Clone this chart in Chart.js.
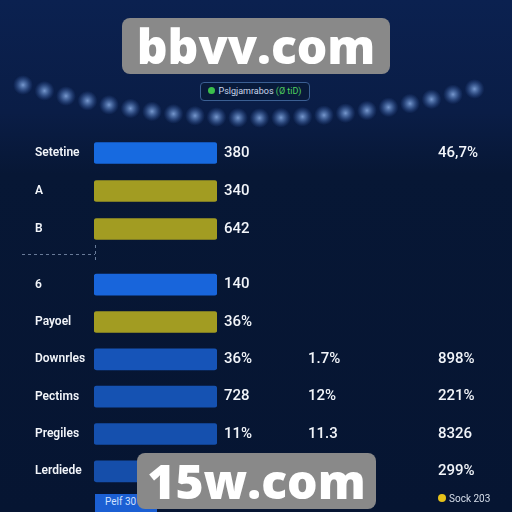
<!DOCTYPE html>
<html>
<head>
<meta charset="utf-8">
<script src="https://cdn.jsdelivr.net/npm/chart.js@4"></script>
<style>
  html, body { margin: 0; padding: 0; }
  body {
    width: 512px; height: 512px; overflow: hidden; position: relative;
    background: linear-gradient(180deg, #0b2150 0%, #0a1d46 22%, #071735 34%, #061532 100%);
    font-family: Roboto, "Noto Sans", sans-serif;
  }
  #deco { position: absolute; left: 0; top: 0; }
  .box { position: absolute; width: 512px; }
  .wm {
    position: absolute; background: #898989; border-radius: 8px; color: #fff;
    font-weight: 800; text-align: center; font-family: "Open Sans", Roboto, sans-serif;
  }
  #wm1 { left: 122px; top: 18px; width: 268px; height: 56px; font-size: 48px; line-height: 56px; }
  #wm2 { left: 137px; top: 453px; width: 239px; height: 56px; font-size: 48px; line-height: 56px; }
  #legend {
    position: absolute; left: 200px; top: 82px; width: 110px; height: 19px; box-sizing: border-box;
    border: 1px solid #3b5f93; border-radius: 4px; background: #081a3a;
    color: #c9d6ea; font-size: 9px; line-height: 17px; text-align: center; white-space: nowrap;
  }
  #legend .dot { display: inline-block; width: 7px; height: 7px; border-radius: 50%; background: #3bbf4c; margin-right: 3px; }
  #legend .g { color: #4fd05e; }
  #btn {
    position: absolute; left: 95px; top: 494px; width: 62px; height: 18px; background: #1b5fd3;
    color: #cfe0ff; font-size: 10px; line-height: 16px; padding-left: 10px; box-sizing: border-box;
  }
  #sock { position: absolute; left: 438px; top: 493px; color: #d6deea; font-size: 10px; }
  #sock .dot { display: inline-block; width: 8px; height: 8px; border-radius: 50%; background: #e6c21a; margin-right: 3px; }
</style>
</head>
<body>
<canvas id="deco" width="512" height="512"></canvas>
<div class="box" style="left:0;top:134px;height:114px;"><canvas id="chartTop"></canvas></div>
<div class="box" style="left:0;top:266px;height:224px;"><canvas id="chartBottom"></canvas></div>
<div class="wm" id="wm1">bbvv.com</div>
<div id="legend"><span class="dot"></span>Pslgjamrabos <span class="g">(Ø tiD)</span></div>
<div id="btn">Pelf 30</div>
<div id="sock"><span class="dot"></span>Sock 203</div>
<div class="wm" id="wm2">15w.com</div>
<script>
const categorias = ["Setetine", "A", "B", "6", "Payoel", "Downrles", "Pectims", "Pregiles", "Lerdiede"];
// todas las barras tienen el mismo largo en la imagen
const valoresBarra = [100, 100, 100, 100, 100, 100, 100, 100, 100];
const columna1 = ["380", "340", "642", "140", "36%", "36%", "728", "11%", ""];
const columna2 = ["", "", "", "", "", "1.7%", "12%", "11.3", ""];
const columna3 = ["46,7%", "", "", "", "", "898%", "221%", "8326", "299%"];
const coloresBarra = ["#176ae0", "#a29c22", "#a29c22", "#1865db", "#a29c22", "#1654b8", "#1552b2", "#1550ae", "#154eaa"];
const corte = 3; // filas arriba de la linea punteada

// fondo: puntos en arco y linea punteada
const deco = document.getElementById("deco").getContext("2d");
for (let i = 0; i < 22; i++) {
  const x = 23 + i * 21.5;
  const dx = (x - 256) / 233;
  const y = 118 - dx * dx * 33;
  const g = deco.createRadialGradient(x, y, 0, x, y, 10);
  g.addColorStop(0, "rgba(140,175,230,0.85)");
  g.addColorStop(0.4, "rgba(105,145,210,0.55)");
  g.addColorStop(1, "rgba(60,100,180,0)");
  deco.fillStyle = g;
  deco.beginPath();
  deco.arc(x, y, 10, 0, Math.PI * 2);
  deco.fill();
}
deco.strokeStyle = "rgba(170,190,220,0.6)";
deco.setLineDash([3, 3]);
deco.beginPath();
deco.moveTo(22, 254.5);
deco.lineTo(95, 254.5);
deco.moveTo(95.5, 245);
deco.lineTo(95.5, 263);
deco.stroke();

const textos = {
  id: "textos",
  afterDatasetsDraw(chart, args, opts) {
    const c = chart.ctx;
    const y = chart.scales.y;
    c.save();
    c.textBaseline = "middle";
    opts.filas.forEach((fila, i) => {
      const py = y.getPixelForValue(i);
      c.fillStyle = "#f2f5fa";
      c.font = "600 12px Roboto";
      c.fillText(fila.nombre, 35, py);
      c.font = "500 15px Roboto";
      c.fillText(fila.v1, 224, py);
      c.fillText(fila.v2, 308, py);
      c.fillText(fila.v3, 438, py);
    });
    c.restore();
  },
};

const pintarGrafica = (id, desde, hasta) => {
  const filas = categorias.slice(desde, hasta).map((nombre, k) => ({
    nombre,
    v1: columna1[desde + k],
    v2: columna2[desde + k],
    v3: columna3[desde + k],
  }));
  new Chart(document.getElementById(id), {
    type: "bar",
    data: {
      labels: categorias.slice(desde, hasta),
      datasets: [
        {
          data: valoresBarra.slice(desde, hasta),
          backgroundColor: coloresBarra.slice(desde, hasta),
          borderRadius: 3,
          borderSkipped: false,
          barThickness: 21,
        },
      ],
    },
    options: {
      indexAxis: "y",
      responsive: true,
      maintainAspectRatio: false,
      animation: false,
      layout: { padding: { left: 94, right: 295, top: 0, bottom: 0 } },
      scales: {
        x: { display: false, min: 0, max: 100 },
        y: { display: false, offset: true },
      },
      plugins: {
        legend: { display: false },
        tooltip: { enabled: false },
        textos: { filas },
      },
    },
    plugins: [textos],
  });
};

pintarGrafica("chartTop", 0, corte);
pintarGrafica("chartBottom", corte, categorias.length);
</script>
</body>
</html>
